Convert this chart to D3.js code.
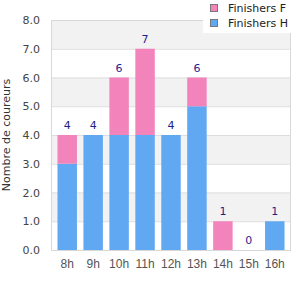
<!DOCTYPE html>
<html><head><meta charset="utf-8">
<script src="https://cdn.jsdelivr.net/npm/d3@7"></script>
<style>body{margin:0;background:#fff}svg{display:block}</style>
</head><body>
<svg id="c" width="300" height="300"></svg>
<script>
const categories = ["8h","9h","10h","11h","12h","13h","14h","15h","16h"];
const finishersH = [3,4,4,4,4,5,0,0,1];
const finishersF = [1,0,2,3,0,1,1,0,0];
const seriesNames = ["Finishers F","Finishers H"];
const yTicks = [0,1,2,3,4,5,6,7,8];

const colF = "#f283bb", colH = "#61a8f3";
const svg = d3.select("#c");
const m = {l:51, r:291, t:20, b:250};
const x = d3.scaleBand().domain(categories).range([m.l, m.r]).padding(0.25);
const y = d3.scaleLinear().domain([0,8]).range([m.b, m.t]);

// alternating bands
for (let i = 0; i < 8; i++) {
  if (i % 2 === 1) svg.append("rect").attr("x", m.l).attr("width", m.r-m.l)
    .attr("y", y(i+1)).attr("height", y(i)-y(i+1)).attr("fill", "#f2f2f2");
}
svg.selectAll(".g").data(yTicks).join("line")
  .attr("x1", m.l).attr("x2", m.r).attr("y1", d=>y(d)+0.5).attr("y2", d=>y(d)+0.5)
  .attr("stroke", "#dddddd");
svg.append("rect").attr("x", m.l+0.5).attr("y", m.t+0.5).attr("width", m.r-m.l-1).attr("height", m.b-m.t)
  .attr("fill","none").attr("stroke","#d8d8d8");

const data = categories.map((c,i)=>({c, h:finishersH[i], f:finishersF[i]}));
svg.selectAll(".bh").data(data).join("rect")
  .attr("x", d=>x(d.c)).attr("width", x.bandwidth())
  .attr("y", d=>y(d.h)).attr("height", d=>y(0)-y(d.h)).attr("fill", colH);
svg.selectAll(".bf").data(data).join("rect")
  .attr("x", d=>x(d.c)).attr("width", x.bandwidth())
  .attr("y", d=>y(d.h+d.f)).attr("height", d=>y(d.h)-y(d.h+d.f)).attr("fill", colF);
svg.selectAll(".lbl").data(data).join("text")
  .attr("x", d=>x(d.c)+x.bandwidth()/2).attr("y", d=>y(d.h+d.f)-6)
  .attr("text-anchor","middle").attr("font-family","DejaVu Sans, sans-serif").attr("font-size",11)
  .attr("fill","#1f1f8a").text(d=>d.h+d.f);

// axes
const ya = svg.append("g").attr("transform",`translate(${m.l},0)`)
  .call(d3.axisLeft(y).tickValues(yTicks).tickFormat(d3.format(".1f")).tickSize(0).tickPadding(11));
const xa = svg.append("g").attr("transform",`translate(0,${m.b})`)
  .call(d3.axisBottom(x).tickSize(0).tickPadding(9));
[ya,xa].forEach(a=>{a.select(".domain").remove();
  a.selectAll("text").attr("font-family","DejaVu Sans, sans-serif").attr("font-size",11).attr("fill","#444");});
xa.selectAll("text").attr("font-family","Liberation Sans, Arial, sans-serif").attr("font-size",12).attr("fill","#555");

svg.append("text").attr("transform","translate(10,135) rotate(-90)")
  .attr("text-anchor","middle").attr("font-family","DejaVu Sans, sans-serif").attr("font-size",11)
  .attr("fill","#333").text("Nombre de coureurs");

// legend
const lg = svg.append("g");
lg.append("rect").attr("x",203).attr("y",0).attr("width",88).attr("height",33).attr("fill","#fff");
[colF,colH].forEach((c,i)=>{
  lg.append("rect").attr("x",210.5).attr("y",4.5+i*15).attr("width",7).attr("height",7)
    .attr("fill",c).attr("stroke","#777");
  lg.append("text").attr("x",228).attr("y",12+i*15).attr("font-family","DejaVu Sans, sans-serif")
    .attr("font-size",11).attr("fill","#222").text(seriesNames[i]);
});
</script>
</body></html>
